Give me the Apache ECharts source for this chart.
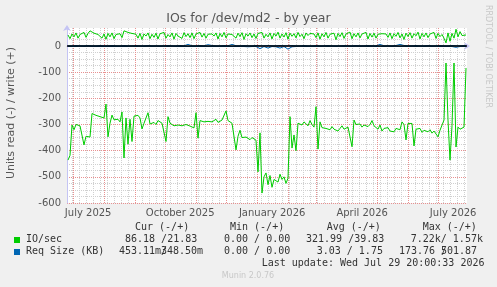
<!DOCTYPE html>
<html><head><meta charset="utf-8">
<script src="https://cdn.jsdelivr.net/npm/echarts@6/dist/echarts.min.js"></script>
<style>html,body{margin:0;padding:0;background:#f0f0f0}#c{width:497px;height:287px}</style>
</head><body><div id="c"></div>
<script>
// ---- data (one value per 2-day step, 400 days ending at last update) ----
const readIO = [
-436,-418,-302,-320,-300,-295,-305,-298,-378,-345,-340,-348,-258,-262,-265,-260,-270,-268,-275,-222,
-347,-295,-264,-282,-288,-280,-290,-252,-428,-275,-375,-280,-365,-268,-272,-265,-275,-317,-295,-300,
-255,-298,-295,-292,-300,-285,-282,-295,-288,-365,-270,-295,-300,-305,-298,-302,-300,-305,-298,-300,
-303,-306,-310,-313,-255,-352,-285,-280,-290,-283,-288,-282,-290,-285,-280,-292,-287,-283,-290,-248,
-285,-292,-295,-300,-397,-345,-322,-350,-355,-348,-352,-358,-350,-355,-360,-481,-332,-562,-500,-485,
-530,-495,-540,-510,-505,-520,-490,-510,-500,-525,-505,-270,-390,-340,-400,-295,-298,-302,-290,-296,
-305,-285,-300,-310,-232,-394,-290,-312,-305,-315,-310,-320,-308,-318,-312,-325,-315,-305,-318,-322,
-310,-315,-385,-283,-300,-305,-298,-310,-302,-296,-308,-300,-285,-305,-310,-318,-302,-325,-315,-320,
-312,-325,-318,-328,-315,-322,-320,-290,-300,-359,-296,-300,-296,-382,-318,-325,-315,-330,-322,-318,
-328,-320,-333,-325,-318,-347,-322,-320,-283,-65,-283,-436,-305,-65,-386,-310,-318,-325,-310,-84];
const writeIO = [
42,28,46,35,50,30,44,38,52,33,48,58,52,49,46,44,40,30,46,26,
48,35,50,28,44,38,47,32,58,55,52,50,48,47,45,30,48,25,46,38,
50,28,45,33,49,27,47,40,52,30,44,35,50,26,48,38,45,29,51,36,
47,32,50,28,46,40,52,34,48,30,45,44,46,38,50,27,48,35,52,31,
46,45,44,43,30,49,36,51,25,47,38,50,32,46,29,48,41,52,30,45,
35,50,27,48,38,53,30,46,34,51,26,49,37,47,31,52,36,45,28,50,
40,48,47,46,32,50,26,47,35,52,30,45,38,49,24,48,36,51,29,46,
40,53,28,47,35,50,31,46,39,52,27,48,34,49,30,45,48,47,47,46,
33,50,28,47,37,52,31,46,25,49,36,51,30,47,39,53,27,48,35,50,
32,46,40,52,29,48,36,44,30,12,50,18,48,30,64,35,55,40,44,42];
const readReq = [
-2,-7,-2,-1,-2,-2,-1,-2,-2,-2,-1,-2,-2,-1,-2,-2,-2,-1,-2,-2,
-2,-1,-2,-2,-2,-1,-2,-2,-2,-1,-2,-2,-1,-2,-2,-2,-1,-2,-2,-2,
-1,-2,-2,-2,-1,-2,-2,-2,-1,-2,-2,-2,-1,-2,-2,-1,-2,-2,-2,-1,
-2,-2,-2,-1,-2,-2,-2,-1,-2,-2,-2,-1,-2,-2,-2,-1,-2,-2,-2,-1,
-2,-2,-2,-1,-2,-2,-2,-1,-2,-2,-3,-2,-2,-3,-2,-9,-10,-3,-2,-3,
-8,-3,-2,-9,-3,-2,-8,-3,-2,-3,-12,-10,-3,-2,-2,-2,-1,-2,-2,-2,
-2,-1,-2,-2,-2,-8,-2,-2,-1,-2,-2,-2,-1,-2,-2,-2,-1,-2,-2,-2,
-1,-2,-2,-2,-1,-2,-2,-2,-1,-2,-2,-2,-1,-2,-2,-2,-1,-2,-2,-2,
-1,-2,-2,-2,-1,-2,-2,-2,-1,-2,-2,-2,-1,-2,-2,-2,-1,-2,-2,-2,
-1,-2,-2,-2,-1,-2,-2,-2,-2,-6,-2,-3,-2,-3,-5,-2,-2,-1,-2,-2];
const writeReq = [
1,2,1,1,2,1,1,2,1,1,2,1,1,2,1,1,2,1,1,2,
1,1,2,1,1,2,1,1,2,1,1,2,1,1,2,1,1,2,1,1,
2,1,1,2,1,6,1,2,1,1,2,1,1,2,1,1,2,1,1,2,
6,1,1,2,1,1,2,1,1,2,5,1,2,1,1,2,1,1,2,1,
1,2,6,1,1,2,1,1,2,1,1,2,1,1,2,1,1,2,1,1,
2,1,1,2,1,1,2,1,1,2,1,1,2,1,1,2,1,1,2,1,
1,2,1,1,2,1,1,2,1,1,2,1,1,5,1,2,1,1,2,1,
1,2,1,1,2,1,1,2,1,1,2,1,1,2,1,1,6,1,1,5,
1,2,1,1,2,1,6,1,2,1,1,2,1,1,2,1,1,2,1,1,
2,1,1,2,1,1,2,1,1,2,1,1,2,1,1,2,1,1,2,1];
const xLabels = ['July 2025','October 2025','January 2026','April 2026','July 2026'];
const xLabelDates = [Date.UTC(2025,6,16),Date.UTC(2025,9,16),Date.UTC(2026,0,16),Date.UTC(2026,3,16),Date.UTC(2026,6,16)];

const DAY = 86400000;
const tEnd = Date.UTC(2026,6,29,20,0,33);
const tStart = tEnd - 400*DAY;
const ts = i => tStart + (i*2+1)*DAY;
const monthStarts = [];
for (let m = 6; m <= 18; m++) monthStarts.push(Date.UTC(2025, m, 1));
const weeks = [];
for (let t = Date.UTC(2025,5,30); t < tEnd; t += 7*DAY) weeks.push(t);
const yMin = -600, yMax = 68.8;

const GREEN = '#00cc00', BLUE = '#0066b3';
const axisCol = '#c4c4f4';
const MAJ = '#e89090', MIN = '#d0d0d0';
const mono = 'DejaVu Sans Mono';
function txt(x, y, s) {
  return {type:'text', x:x, y:y, z:10, style:{text:s, fill:'#333', font:'10px "' + mono + '"', textVerticalAlign:'middle'}};
}

const option = {
  backgroundColor:'#f0f0f0',
  animation:false,
  title:{text:'IOs for /dev/md2 - by year', left:'center', top:12, padding:0,
    textStyle:{fontSize:12.5, fontWeight:'normal', color:'#555', fontFamily:'DejaVu Sans'}},
  grid:{left:67, right:30, top:28, bottom:84, show:true, backgroundColor:'#ffffff', borderWidth:0, z:0},
  xAxis:[
    {type:'value', min:tStart, max:tEnd,
     axisLine:{show:true, lineStyle:{color:axisCol, width:1}, symbol:['none','arrow'], symbolSize:[6,6], symbolOffset:[0,3]},
     axisTick:{show:false},
     axisLabel:{customValues:xLabelDates, color:'#555', fontSize:10, fontFamily:'DejaVu Sans', margin:5,
       formatter:v => { const k = xLabelDates.indexOf(v); return k >= 0 ? xLabels[k] : ''; }},
     splitLine:{show:false}}
  ],
  yAxis:[
    {type:'value', min:yMin, max:yMax, interval:100,
     axisLine:{show:true, lineStyle:{color:axisCol, width:1}, symbol:['none','arrow'], symbolSize:[6,6], symbolOffset:[0,3]},
     axisTick:{show:false},
     axisLabel:{color:'#555', fontSize:10, fontFamily:'DejaVu Sans', margin:6, showMaxLabel:false,
       formatter:v => (Math.round(v) % 100 === 0 ? String(v) : '')},
     splitLine:{show:true, showMaxLine:false, lineStyle:{color:MAJ, width:1, type:[1,1]}}, z:1},
    {type:'value', min:yMin, max:yMax, interval:25, position:'left',
     axisLine:{show:false}, axisTick:{show:false}, axisLabel:{show:false},
     splitLine:{show:true, showMaxLine:false, lineStyle:{color:MIN, width:1, type:[1,1]}}, z:0}
  ],
  series:[
    {type:'line', name:'IO/sec read', data:readIO.map((v,i)=>[ts(i),v]), showSymbol:false, lineStyle:{color:GREEN, width:1}, itemStyle:{color:GREEN}, z:3},
    {type:'line', name:'IO/sec write', data:writeIO.map((v,i)=>[ts(i),v]), showSymbol:false, lineStyle:{color:GREEN, width:1}, itemStyle:{color:GREEN}, z:3},
    {type:'line', name:'Req read', data:readReq.map((v,i)=>[ts(i),v]), showSymbol:false, lineStyle:{color:BLUE, width:1}, itemStyle:{color:BLUE}, z:4},
    {type:'line', name:'Req write', data:writeReq.map((v,i)=>[ts(i),v]), showSymbol:false, lineStyle:{color:BLUE, width:1}, itemStyle:{color:BLUE}, z:4,
     markLine:{silent:true, symbol:'none', label:{show:false}, lineStyle:{color:'#000', width:1.5, type:'solid'}, data:[{yAxis:0}]}}
  ],
  graphic:{elements:[
    {type:'text', x:11, y:113, rotation:Math.PI/2, style:{text:'Units read (-) / write (+)', fill:'#555', font:'11px "DejaVu Sans"', textAlign:'center', textVerticalAlign:'middle'}},
    {type:'text', x:488, y:5, rotation:-Math.PI/2, style:{text:'RRDTOOL / TOBI OETIKER', fill:'#c8c8c8', font:'8px "DejaVu Sans"', textAlign:'left', textVerticalAlign:'middle'}},
    txt(135, 227.5, 'Cur (-/+)'), txt(230, 227.5, 'Min (-/+)'), txt(326.7, 227.5, 'Avg (-/+)'), txt(422.7, 227.5, 'Max (-/+)'),
    {type:'rect', shape:{x:14, y:237, width:6, height:6}, style:{fill:GREEN}},
    txt(26, 239.5, 'IO/sec'), txt(125, 239.5, '86.18 /21.83'), txt(224, 239.5, '0.00 / 0.00'), txt(306, 239.5, '321.99 /39.83'), txt(410.7, 239.5, '7.22k/ 1.57k'),
    {type:'rect', shape:{x:14, y:249, width:6, height:6}, style:{fill:BLUE}},
    txt(26, 251.7, 'Req Size (KB)'), txt(119, 251.7, '453.11m'), txt(161, 251.7, '/'), txt(161, 251.7, '348.50m'),
    txt(224, 251.7, '0.00 / 0.00'), txt(316.7, 251.7, '3.03 / 1.75'), txt(399, 251.7, '173.76 '), txt(441, 251.7, '/'), txt(441, 251.7, '501.87'),
    txt(261.7, 263.5, 'Last update: Wed Jul 29 20:00:33 2026'),
    {type:'text', x:248, y:276, style:{text:'Munin 2.0.76', fill:'#c8c8c8', font:'8px "DejaVu Sans"', textAlign:'center', textVerticalAlign:'middle'}}
  ]}
};

const chart = echarts.init(document.getElementById('c'), null, {renderer:'canvas'});
chart.setOption(option);

// vertical grid lines (weekly minor, monthly major), positioned through the x scale and snapped to pixel centres
const yTop = Math.round(chart.convertToPixel({yAxisIndex:0}, yMax));
const yBot = Math.round(chart.convertToPixel({yAxisIndex:0}, yMin));
function vline(t, color, z) {
  const x = Math.round(chart.convertToPixel({xAxisIndex:0}, t)) + 0.5;
  return {type:'line', z:z, silent:true, shape:{x1:x, y1:yTop, x2:x, y2:yBot},
    style:{stroke:color, lineWidth:1, lineDash:[1,1]}};
}
option.graphic.elements = weeks.map(t => vline(t, MIN, 1))
  .concat(monthStarts.map(t => vline(t, MAJ, 2)))
  .concat(option.graphic.elements);
chart.setOption(option, true);
</script>
</body></html>
